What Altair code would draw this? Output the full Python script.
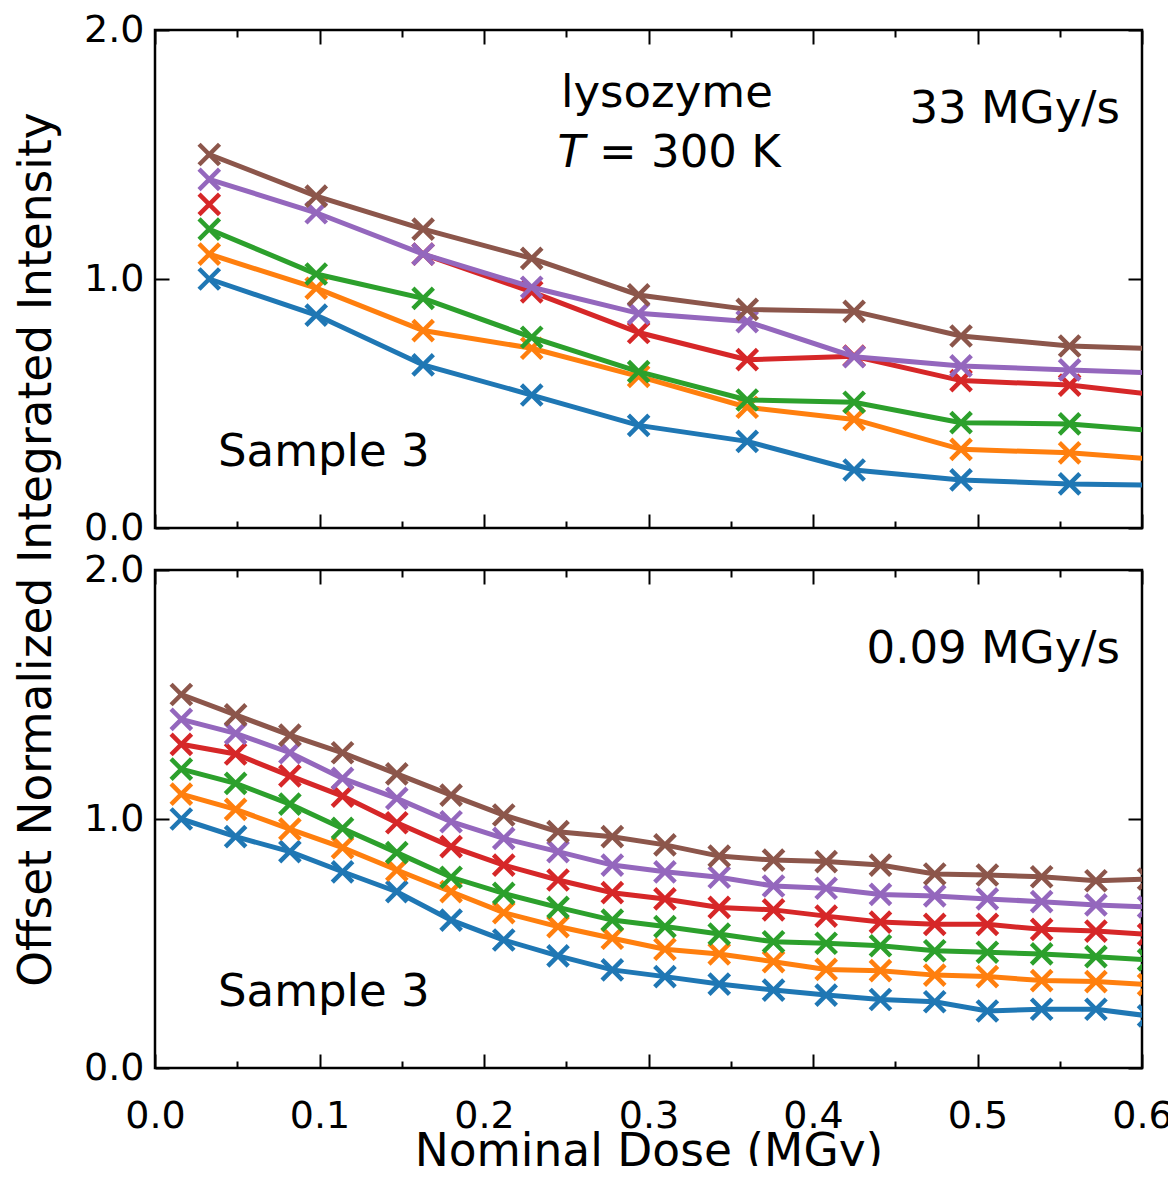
import altair as alt
import pandas as pd

FONT = "DejaVu Sans"

series = ["s1", "s2", "s3", "s4", "s5", "s6"]
colors = ["#1f77b4", "#ff7f0e", "#2ca02c", "#d62728", "#9467bd", "#8c564b"]

# ---- top panel (33 MGy/s) ----
top_dose = [0.033, 0.098, 0.163, 0.229, 0.294, 0.360, 0.425, 0.490, 0.556, 0.621]
top_s1 = [1.000, 0.855, 0.655, 0.534, 0.412, 0.348, 0.233, 0.193, 0.177, 0.171]
top_s2 = [1.100, 0.963, 0.793, 0.722, 0.609, 0.485, 0.436, 0.316, 0.302, 0.270]
top_s3 = [1.200, 1.020, 0.922, 0.766, 0.628, 0.514, 0.505, 0.423, 0.418, 0.383]
top_s4 = [1.300, None, 1.100, 0.948, 0.785, 0.676, 0.690, 0.592, 0.574, 0.525]
top_s5 = [1.400, 1.266, 1.100, 0.967, 0.862, 0.829, 0.688, 0.651, 0.635, 0.619]
top_s6 = [1.500, 1.333, 1.200, 1.083, 0.936, 0.878, 0.870, 0.771, 0.731, 0.718]

# ---- bottom panel (0.09 MGy/s) ----
bot_dose = [0.016, 0.049, 0.082, 0.114, 0.147, 0.180, 0.212, 0.245, 0.278, 0.310,
            0.343, 0.376, 0.408, 0.441, 0.474, 0.506, 0.539, 0.572, 0.604]
bot_s1 = [1.000, 0.929, 0.869, 0.788, 0.708, 0.594, 0.514, 0.450, 0.394, 0.367,
          0.337, 0.313, 0.293, 0.275, 0.266, 0.229, 0.236, 0.236, 0.209]
bot_s2 = [1.100, 1.039, 0.959, 0.885, 0.795, 0.708, 0.624, 0.568, 0.521, 0.477,
          0.458, 0.427, 0.396, 0.391, 0.373, 0.367, 0.351, 0.347, 0.335]
bot_s3 = [1.200, 1.143, 1.060, 0.962, 0.865, 0.766, 0.701, 0.645, 0.594, 0.568,
          0.538, 0.507, 0.501, 0.491, 0.471, 0.465, 0.458, 0.447, 0.434]
bot_s4 = [1.300, 1.261, 1.173, 1.092, 0.985, 0.889, 0.815, 0.755, 0.704, 0.679,
          0.645, 0.635, 0.610, 0.586, 0.577, 0.577, 0.557, 0.550, 0.536]
bot_s5 = [1.400, 1.344, 1.266, 1.163, 1.083, 0.989, 0.922, 0.869, 0.815, 0.788,
          0.766, 0.731, 0.722, 0.697, 0.691, 0.679, 0.668, 0.655, 0.647]
bot_s6 = [1.500, 1.418, 1.337, 1.266, 1.181, 1.096, 1.016, 0.949, 0.929, 0.896,
          0.851, 0.835, 0.829, 0.815, 0.779, 0.775, 0.768, 0.752, 0.759]

x_major = [0.0, 0.1, 0.2, 0.3, 0.4, 0.5, 0.6]
x_minor = [0.05, 0.15, 0.25, 0.35, 0.45, 0.55]
y_major = [0.0, 1.0, 2.0]

x_title = "Nominal Dose (MGy)"
y_title = "Offset Normalized Integrated Intensity"
top_rate = ["33 MGy/s"]
bot_rate = ["0.09 MGy/s"]
sample_label = ["Sample 3"]
protein_label = ["lysozyme"]
temp_T = ["T"]
temp_rest = ["= 300 K"]


def long_df(dose, values_list):
    rows = []
    for name, vals in zip(series, values_list):
        for d, v in zip(dose, vals):
            rows.append({"dose": d, "value": v, "series": name})
    return pd.DataFrame(rows)


top_df = long_df(top_dose, [top_s1, top_s2, top_s3, top_s4, top_s5, top_s6])
bot_df = long_df(bot_dose, [bot_s1, bot_s2, bot_s3, bot_s4, bot_s5, bot_s6])

W, H = 987, 498
XS = alt.Scale(domain=[0, 0.6], nice=False, zero=False)
YS = alt.Scale(domain=[0, 2], nice=False, zero=False)
X_SHAPE = "M-1,-1L1,1M-1,1L1,-1"


def ax(**kw):
    base = dict(grid=False, domain=False, labelFont=FONT, titleFont=FONT,
                tickColor="black", labelColor="black", titleColor="black",
                tickWidth=2, labelFlush=False, labelOverlap=False,
                titleFontWeight="normal")
    base.update(kw)
    return alt.Axis(**base)


def tick_axis(orient, values, size):
    return ax(orient=orient, values=values, labels=False, ticks=True,
              tickSize=size, offset=-size, title=None)


def axis_chart(df, xaxis, yaxis):
    return alt.Chart(df).mark_point(opacity=0, clip=True).encode(
        x=alt.X("dose:Q", scale=XS, axis=xaxis),
        y=alt.Y("value:Q", scale=YS, axis=yaxis),
    )


def series_layers(df):
    out = []
    for name, color in zip(series, colors):
        d = df[df["series"] == name]
        base = alt.Chart(d).encode(
            x=alt.X("dose:Q", scale=XS, axis=None),
            y=alt.Y("value:Q", scale=YS, axis=None),
        )
        line = base.mark_line(color=color, strokeWidth=5, clip=True,
                              invalid="break-paths-show-domains")
        pts = base.mark_point(shape=X_SHAPE, color=color, size=420,
                              strokeWidth=4.5, filled=False, opacity=1, clip=True)
        out += [line, pts]
    return out


def text_chart(label, x, y, align, size=45, style="normal"):
    return alt.Chart(pd.DataFrame({"label": label})).mark_text(
        font=FONT, fontSize=size, align=align, baseline="alphabetic",
        color="black", fontStyle=style,
    ).encode(
        x=alt.XDatum(x, axis=None, scale=XS),
        y=alt.YDatum(y, axis=None, scale=YS),
        text="label:N",
    )


def panel(df, bottom_labels, with_ytitle, texts):
    ylab_kw = dict(orient="left", values=y_major, format=".1f", ticks=False,
                   tickSize=0, labelFontSize=38, labelPadding=11)
    if with_ytitle:
        ylab_kw.update(title=y_title, titleFontSize=45.5, titleAngle=270,
                       titleX=-105, titleY=519, titleAlign="center",
                       titleBaseline="alphabetic")
    else:
        ylab_kw.update(title=None)
    layers = [
        axis_chart(df, tick_axis("bottom", x_major, 14), ax(**ylab_kw)),
        axis_chart(df, tick_axis("bottom", x_minor, 7), tick_axis("left", y_major, 14)),
        axis_chart(df, tick_axis("top", x_major, 14), tick_axis("right", y_major, 14)),
        axis_chart(df, tick_axis("top", x_minor, 7), None),
    ]
    if bottom_labels:
        layers.append(axis_chart(df, ax(orient="bottom", values=x_major, format=".1f",
                                        ticks=False, tickSize=0, labelFontSize=38,
                                        labelPadding=59, labelBaseline="alphabetic",
                                        title=x_title, titleFontSize=45.5,
                                        titleY=97, titleBaseline="alphabetic"), None))
    layers += series_layers(df)
    layers += texts
    return alt.layer(*layers).resolve_axis(x="independent", y="independent").properties(
        width=W, height=H)


top_texts = [
    text_chart(protein_label, 0.3112, 1.691, "center"),
    text_chart(temp_T, 0.2447, 1.450, "left", style="italic"),
    text_chart(temp_rest, 0.2699, 1.450, "left"),
    text_chart(top_rate, 0.5866, 1.627, "right"),
    text_chart(sample_label, 0.0383, 0.249, "left"),
]
bot_texts = [
    text_chart(bot_rate, 0.5866, 1.627, "right"),
    text_chart(sample_label, 0.0383, 0.249, "left"),
]

top = panel(top_df, False, True, top_texts)
bottom = panel(bot_df, True, False, bot_texts)

chart = alt.vconcat(
    top, bottom, spacing=42, bounds="flush",
    autosize=alt.AutoSizeParams(type="none"),
    padding={"left": 147, "top": 22, "right": 26, "bottom": 1136},
).configure_view(stroke="black", strokeWidth=2.5)

chart.save("out.html", embed_options={"renderer": "svg", "actions": False})
